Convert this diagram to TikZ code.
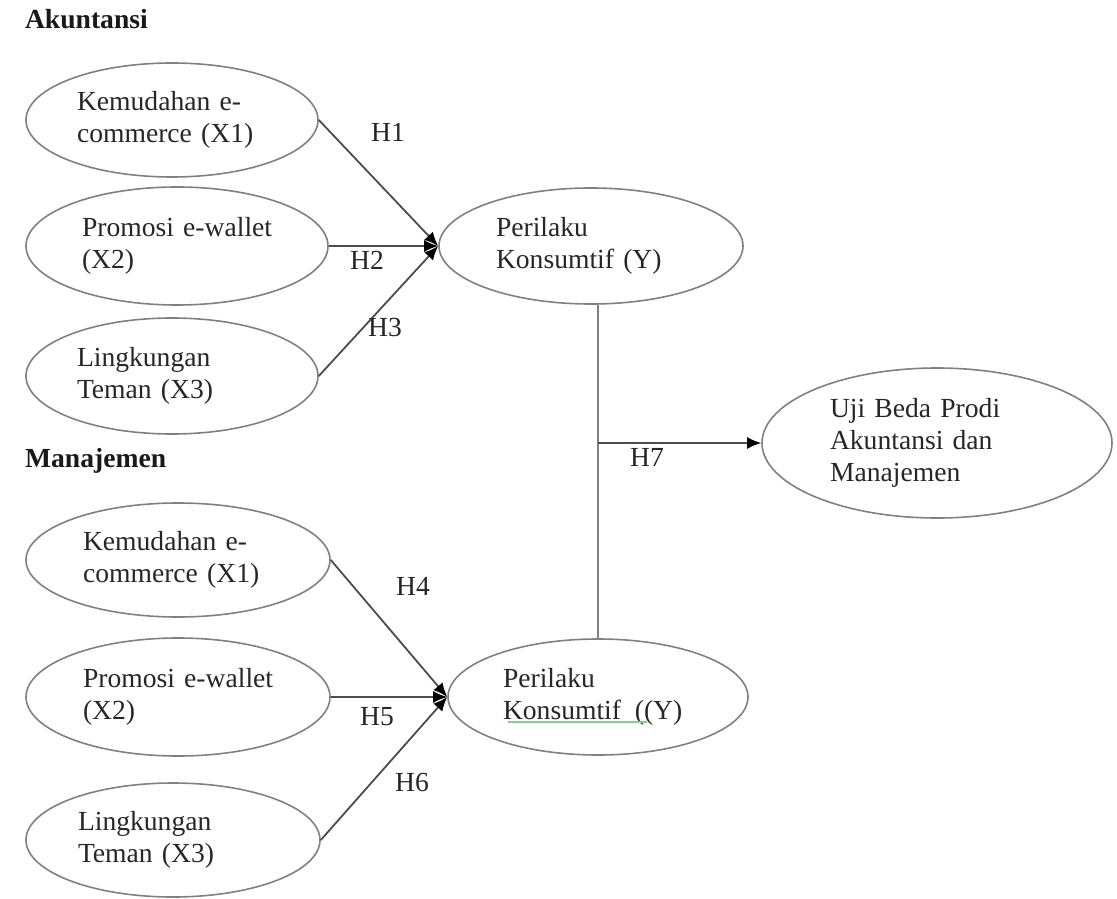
\documentclass[tikz,border=0pt]{standalone}
\usepackage{fontspec}
\setmainfont{Liberation Serif}
\usetikzlibrary{shapes.geometric,arrows.meta}
\begin{document}
\begin{tikzpicture}[
		x=0.5pt, y=-0.5pt,
		font=\fontsize{13.8}{16}\selectfont,
		var/.style={ellipse, draw=black!50, line width=0.8pt, inner sep=0pt, text width=95pt, align=left, text=black!85, minimum width=146pt, minimum height=57pt},
		title/.style={anchor=west, text=black!90, font=\fontsize{13.8}{16}\selectfont\bfseries},
		hyp/.style={text=black!85},
		arrow/.style={line width=0.9pt, draw=black!70, -{Latex[length=7pt,width=6pt,color=black]}},
		line/.style={line width=0.9pt, draw=black!50}
	]
	\useasboundingbox (0,0) rectangle (1117,898);

	% Kelompok Akuntansi
	\node[title] (akt) at (18,19) {Akuntansi};
	\node[var] (akt_x1) at (172,120) {Kemudahan e-\\commerce (X1)};
	\node[var, minimum width=151pt, minimum height=59pt] (akt_x2) at (177,246) {\mbox{Promosi e-wallet}\\(X2)};
	\node[var, minimum height=58pt] (akt_x3) at (172,376) {Lingkungan\\Teman (X3)};
	\node[var, minimum width=152pt, minimum height=58pt] (akt_y) at (591,246) {Perilaku\\Konsumtif (Y)};

	% Kelompok Manajemen
	\node[title] (mnj) at (18,461) {Manajemen};
	\node[var, minimum width=152pt] (mnj_x1) at (178,560) {Kemudahan e-\\commerce (X1)};
	\node[var, minimum width=152pt, minimum height=59pt] (mnj_x2) at (178,697) {\mbox{Promosi e-wallet}\\(X2)};
	\node[var, minimum width=147pt] (mnj_x3) at (173,840) {Lingkungan\\Teman (X3)};
	\node[var, minimum width=150pt, minimum height=58pt] (mnj_y) at (598,697) {Perilaku\\Konsumtif \,((Y)};

	% Uji beda
	\node[var, minimum width=175pt, minimum height=75pt, text width=107pt] (uji) at (937,443) {Uji Beda Prodi\\Akuntansi dan\\Manajemen};

	% Panah hipotesis
	\draw[arrow] (akt_x1.east) -- (akt_y.west);
	\draw[arrow] (akt_x2.east) -- (akt_y.west);
	\draw[arrow] (akt_x3.east) -- (akt_y.west);
	\draw[arrow] (mnj_x1.east) -- (mnj_y.west);
	\draw[arrow] (mnj_x2.east) -- (mnj_y.west);
	\draw[arrow] (mnj_x3.east) -- (mnj_y.west);

	\draw[line] (mnj_y.north) -- (mnj_y.north |- akt_y.south);
	\coordinate (h7_pt) at (mnj_y.north |- uji.west);
	\draw[arrow] (h7_pt) -- (uji.west);

	% Label H
	\node[hyp] (h1) at (388,132) {H1};
	\node[hyp] (h2) at (367,260) {H2};
	\node[hyp] (h3) at (385,327) {H3};
	\node[hyp] (h4) at (413,586) {H4};
	\node[hyp] (h5) at (377,717) {H5};
	\node[hyp] (h6) at (412,782) {H6};
	\node[hyp] (h7) at (647,457) {H7};

	% garis ejaan
	\draw[green!55!black!45, line width=0.6pt] (508,722) -- (647,722);

\end{tikzpicture}
\end{document}
